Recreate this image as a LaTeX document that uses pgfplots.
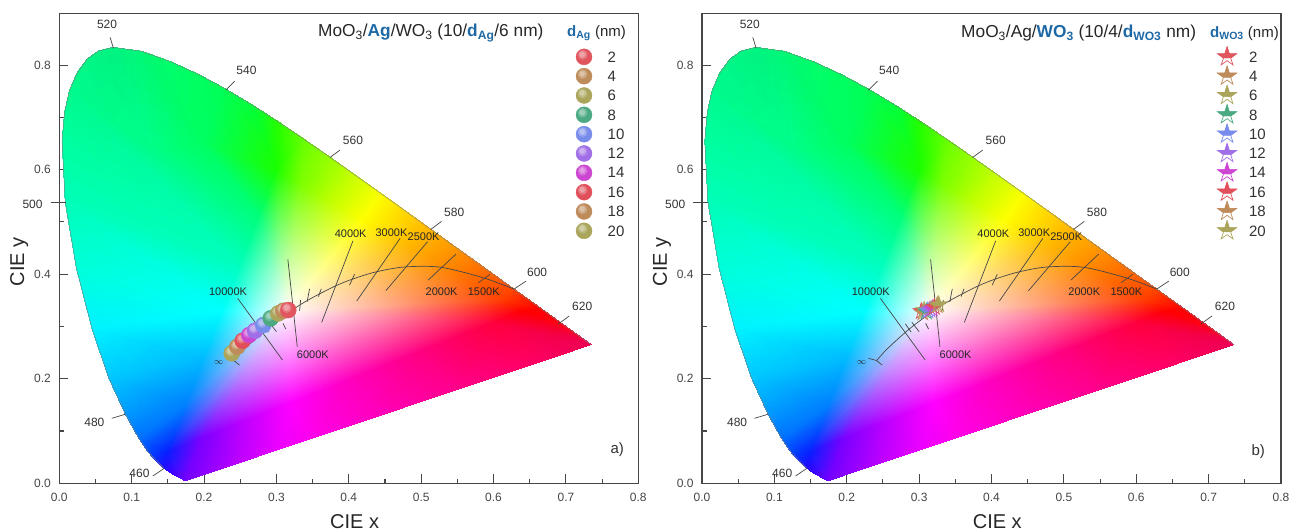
\documentclass[border=0pt]{standalone}
\usepackage{fontspec}
\setmainfont{Liberation Sans}
\usepackage{pgfplots}
\usepackage{pgfplotstable}
\pgfplotsset{compat=1.18}
\usepgfplotslibrary{patchplots}
\usetikzlibrary{plotmarks}
\definecolor{axc}{RGB}{70,70,70}
\definecolor{txc}{RGB}{50,50,50}
\definecolor{linc}{RGB}{70,70,70}
\definecolor{tblue}{RGB}{30,105,165}
\definecolor{c1}{RGB}{225,85,95}
\definecolor{c2}{RGB}{190,140,90}
\definecolor{c3}{RGB}{170,165,90}
\definecolor{c4}{RGB}{75,170,130}
\definecolor{c5}{RGB}{120,140,235}
\definecolor{c6}{RGB}{160,110,230}
\definecolor{c7}{RGB}{205,70,210}
\definecolor{c8}{RGB}{225,80,90}
\definecolor{c9}{RGB}{190,140,90}
\definecolor{c10}{RGB}{170,165,90}

\newcommand\defball[1]{%
  \pgfdeclareplotmark{ball#1}{%
    \begin{scope}[x=\pgfplotmarksize,y=\pgfplotmarksize]
      \fill[c#1] (0,0) circle[radius=1];
      \fill[white,opacity=.16] (-.18,.25) circle[radius=.58];
      \fill[white,opacity=.18] (-.2,.28) circle[radius=.42];
      \fill[white,opacity=.22] (-.22,.3) circle[radius=.27];
    \end{scope}}%
  \pgfdeclareplotmark{star#1}{%
    \begin{scope}[x=\pgfplotmarksize,y=\pgfplotmarksize]
      \fill[c#1] (0,1)--(-.225,.309)--(-.951,.309)--(-.363,-.118)--(.363,-.118)--(.951,.309)--(.225,.309)--cycle;
      \draw[c#1,line width=.7pt,line join=miter] (0,1)--(-.225,.309)--(-.951,.309)--(-.363,-.118)--(-.588,-.809)--(0,-.382)--(.588,-.809)--(.363,-.118)--(.951,.309)--(.225,.309)--cycle;
    \end{scope}}}
\defball{1}\defball{2}\defball{3}\defball{4}\defball{5}\defball{6}\defball{7}\defball{8}\defball{9}\defball{10}

\pgfplotstableread{
x y c
.3127 .3290 rgb=1,1,1
.4633 .3295 rgb=1,.56,.56
.4501 .3400 rgb=1,.67,.56
.4209 .3630 rgb=1,.77,.56
.3881 .3892 rgb=1,.88,.56
.3617 .4101 rgb=1,1,.56
.3402 .4273 rgb=.88,1,.56
.3221 .4415 rgb=.77,1,.56
.3069 .4537 rgb=.6,1,.56
.2953 .4119 rgb=.56,1,.77
.2837 .3704 rgb=.56,1,.88
.2722 .3289 rgb=.56,1,1
.2607 .2876 rgb=.56,.88,1
.2493 .2463 rgb=.56,.77,1
.2379 .2053 rgb=.58,.6,1
.2597 .2173 rgb=.77,.56,1
.2855 .2315 rgb=.88,.56,1
.3165 .2486 rgb=1,.56,1
.3544 .2695 rgb=1,.56,.88
.4020 .2956 rgb=1,.56,.77
.4439 .3188 rgb=1,.56,.67
.6400 .3300 rgb=1,0,0
.6113 .3529 rgb=1,.247,0
.5480 .4029 rgb=1,.484,0
.4767 .4598 rgb=1,.735,0
.4193 .5053 rgb=1,1,0
.3724 .5426 rgb=.735,1,0
.3332 .5736 rgb=.484,1,0
.3000 .6000 rgb=.1,1,0
.2748 .5093 rgb=0,1,.484
.2497 .4189 rgb=0,1,.735
.2247 .3287 rgb=0,1,1
.1997 .2389 rgb=0,.735,1
.1748 .1493 rgb=0,.5,1
.1500 .0600 rgb=.03,.12,1
.1974 .0861 rgb=.484,0,1
.2535 .1170 rgb=.735,0,1
.3209 .1542 rgb=1,0,1
.4034 .1996 rgb=1,0,.735
.5068 .2565 rgb=1,0,.484
.5980 .3069 rgb=1,0,.247
.7347 .2653 rgb=.93,0,.33
.7079 .2920 rgb=1,0,.15
.6915 .3083 rgb=1,0,.08
.6658 .3340 rgb=1,0,0
.6482 .3514 rgb=1,.12,0
.6270 .3725 rgb=1,.28,0
.6029 .3965 rgb=1,.38,0
.5752 .4242 rgb=1,.48,0
.5448 .4544 rgb=1,.6,0
.5125 .4866 rgb=1,.705,0
.4788 .5202 rgb=1,.84,0
.4441 .5547 rgb=.98,1,0
.4087 .5896 rgb=.79,1,0
.3731 .6245 rgb=.59,1,0
.3373 .6589 rgb=.4,1,0
.3016 .6923 rgb=.15,1,0
.2658 .7243 rgb=0,1,.24
.2296 .7543 rgb=0,1,.33
.1929 .7816 rgb=0,1,.38
.1547 .8059 rgb=0,1,.42
.1142 .8262 rgb=0,.97,.46
.0743 .8338 rgb=0,.95,.5
.0389 .8120 rgb=0,.96,.52
.0139 .7502 rgb=0,.98,.55
.0039 .6548 rgb=0,1,.62
.0082 .5384 rgb=0,1,.72
.0235 .4127 rgb=0,1,.85
.0454 .2950 rgb=0,.95,1
.0687 .2007 rgb=0,.78,1
.0913 .1327 rgb=0,.6,1
.1096 .0868 rgb=0,.45,1
.1241 .0578 rgb=0,.27,1
.1440 .0297 rgb=.12,.05,1
.1566 .0177 rgb=.25,0,1
.1741 .0050 rgb=.447,0,1
.2500 .0402 rgb=.75,0,1
.3000 .0634 rgb=.916,0,1
.3500 .0866 rgb=1,0,.92
.4500 .1331 rgb=1,0,.72
.5500 .1796 rgb=1,0,.55
.6500 .2259 rgb=1,0,.4
.2000 .6500 rgb=0,1,.38
.1300 .6200 rgb=0,1,.55
.0074 .7100 rgb=0,.99,.58
.0246 .7850 rgb=0,.97,.53
.0545 .8270 rgb=0,.95,.51
}\verts

\tikzset{
  wl/.style={font=\fontsize{12}{12}\selectfont,text=txc,inner sep=0pt},
  tk/.style={font=\fontsize{11}{11}\selectfont,text=black!85,inner sep=0pt},
}
\pgfplotsset{
  ciepanel/.style={
    scale only axis,width=579pt,height=470pt,anchor=south west,
    xmin=0,xmax=.8,ymin=0,ymax=.899,clip=false,
    axis line style={draw=axc,line width=1.2pt},
    every tick/.style={draw=axc,line width=1.1pt},
    tick align=inside,xtick pos=bottom,ytick pos=left,
    major tick length=9pt,minor tick length=4.7pt,
    xtick={0,.1,.2,.3,.4,.5,.6,.7,.8},ytick={0,.2,.4,.6,.8},
    minor xtick={.05,.15,.25,.35,.45,.55,.65,.75},minor ytick={.1,.3,.5,.7},
    xticklabel style={/pgf/number format/fixed,/pgf/number format/fixed zerofill,/pgf/number format/precision=1,/pgf/number format/assume math mode=true,font=\fontsize{12}{12}\selectfont,text=axc,yshift=-6.5pt},
    yticklabel style={/pgf/number format/fixed,/pgf/number format/fixed zerofill,/pgf/number format/precision=1,/pgf/number format/assume math mode=true,font=\fontsize{12}{12}\selectfont,text=axc,xshift=-5pt},
    legend cell align=left,
    legend style={at={(axis cs:.7137,.8342)},anchor=north west,draw=none,fill=none,inner sep=0pt,outer sep=0pt,
      row sep=0pt,column sep=15.5pt,
      font=\fontsize{15}{15}\selectfont,text=txc,
      nodes={inner sep=0pt,minimum height=19.33pt,text depth=0pt,anchor=west}},
  },
  thin line/.style={linc,line width=.7pt,no marks,forget plot},
}

\newcommand\gamut{%
  \addplot[patch,shader=interp,forget plot,mesh/color input=explicit,table/row sep=\\,patch table={
0 1 2\\0 2 3\\0 3 4\\0 4 5\\0 5 6\\0 6 7\\0 7 8\\0 8 9\\0 9 10\\0 10 11\\0 11 12\\0 12 13\\0 13 14\\0 14 15\\0 15 16\\0 16 17\\0 17 18\\0 18 19\\0 19 20\\0 20 1\\
1 21 22\\1 22 2\\2 22 23\\2 23 3\\3 23 24\\3 24 4\\4 24 25\\4 25 5\\5 25 26\\5 26 6\\6 26 27\\6 27 7\\7 27 28\\7 28 8\\8 28 29\\8 29 9\\9 29 30\\9 30 10\\10 30 31\\10 31 11\\11 31 32\\11 32 12\\12 32 33\\12 33 13\\13 33 34\\13 34 14\\14 34 35\\14 35 15\\15 35 36\\15 36 16\\16 36 37\\16 37 17\\17 37 38\\17 38 18\\18 38 39\\18 39 19\\19 39 40\\19 40 20\\20 40 21\\20 21 1\\
21 41 42\\21 42 43\\21 43 44\\21 22 44\\22 44 45\\22 45 46\\22 23 46\\23 46 47\\23 47 48\\23 24 48\\24 48 49\\24 49 50\\24 25 50\\25 50 51\\25 51 52\\25 26 52\\26 52 53\\26 27 53\\27 53 54\\27 54 55\\27 28 55\\28 55 56\\28 56 57\\28 57 58\\28 58 82\\82 58 59\\82 59 60\\82 60 61\\82 61 83\\83 61 62\\83 62 63\\83 63 64\\28 82 29\\29 82 83\\29 83 64\\65 84 64\\64 85 63\\63 86 62\\29 30 64\\30 64 65\\30 65 66\\30 31 66\\31 66 67\\31 67 68\\31 32 68\\32 68 69\\32 33 69\\33 69 70\\33 70 71\\33 34 71\\34 71 72\\34 72 73\\34 73 74\\34 74 75\\34 35 75\\35 75 76\\35 36 76\\36 76 77\\36 37 77\\37 77 78\\37 38 78\\38 78 79\\38 39 79\\39 79 80\\39 40 80\\40 80 81\\40 81 41\\40 21 41\\
}] table[x=x,y=y,meta=c] \verts;
  \addplot[draw=black!50,line width=.45pt,no marks,forget plot] coordinates {
   (.7347,.2653)(.7079,.2920)(.6915,.3083)(.6658,.3340)(.6482,.3514)(.6270,.3725)(.6029,.3965)(.5752,.4242)(.5448,.4544)(.5125,.4866)(.4788,.5202)(.4441,.5547)(.4087,.5896)(.3731,.6245)(.3373,.6589)(.3016,.6923)(.2658,.7243)(.2296,.7543)(.1929,.7816)(.1547,.8059)(.1142,.8262)(.0743,.8338)(.0545,.8270)(.0389,.8120)(.0246,.7850)(.0139,.7502)(.0074,.7100)(.0039,.6548)(.0082,.5384)(.0235,.4127)(.0454,.2950)(.0687,.2007)(.0913,.1327)(.1096,.0868)(.1241,.0578)(.1440,.0297)};
}
\newcommand\locus{%
  \addplot[thin line,smooth] coordinates {(.2406,.2340)(.2525,.2523)(.2637,.2673)(.2807,.2884)(.2952,.3048)(.3221,.3318)(.3451,.3516)(.3805,.3768)(.4053,.3907)(.4369,.4041)(.4762,.4137)(.5267,.4133)(.5857,.3931)(.6282,.3715)};
  % isotherms and small ticks
  \addplot[thin line] coordinates {(.4058,.4639)(.3625,.3078)};
  \addplot[thin line] coordinates {(.4709,.4685)(.4109,.3486)};
  \addplot[thin line] coordinates {(.5088,.4620)(.4511,.3683)};
  \addplot[thin line] coordinates {(.5481,.4384)(.5097,.3887)};
  \addplot[thin line] coordinates {(.5951,.3996)(.5790,.3836)};
  \addplot[thin line] coordinates {(.3158,.4283)(.3288,.2612)};
  \addplot[thin line] coordinates {(.2465,.3537)(.3084,.2357)};
  \addplot[thin line] coordinates {(.3458,.3720)(.3424,.3470)};
  \addplot[thin line] coordinates {(.3620,.3720)(.3580,.3570)};
  \addplot[thin line] coordinates {(.4080,.4000)(.4010,.3790)};
  \addplot[thin line] coordinates {(.2810,.3050)(.2890,.2890)};
  \addplot[thin line] coordinates {(.2900,.3080)(.3000,.2900)};
  \addplot[thin line] coordinates {(.3090,.3060)(.3130,.2950)};
  \addplot[thin line] coordinates {(.3334,.3505)(.3320,.3300)};
  \addplot[thin line] coordinates {(.2410,.2350)(.2490,.2260)};
  \addplot[thin line] coordinates {(.2300,.2390)(.2410,.2350)};
  % wavelength ticks
  \addplot[thin line] coordinates {(.0702,.8530)(.0748,.8320)};
  \addplot[thin line] coordinates {(.2424,.7693)(.2300,.7520)};
  \addplot[thin line] coordinates {(.3878,.6373)(.3740,.6233)};
  \addplot[thin line] coordinates {(.5282,.5010)(.5134,.4857)};
  \addplot[thin line] coordinates {(.6450,.3868)(.6284,.3715)};
  \addplot[thin line] coordinates {(.7045,.3199)(.6893,.3046)};
  \addplot[thin line] coordinates {(-.0120,.5373)(.0088,.5373)};
  \addplot[thin line] coordinates {(.0725,.1243)(.0910,.1320)};
  \addplot[thin line] coordinates {(.1293,.0140)(.1450,.0287)};
  \node[wl] at (axis cs:.0660,.8780) {520};
  \node[wl] at (axis cs:.2586,.7890) {540};
  \node[wl] at (axis cs:.4058,.6564) {560};
  \node[wl] at (axis cs:.5457,.5188) {580};
  \node[wl] at (axis cs:.6602,.4040) {600};
  \node[wl] at (axis cs:.7225,.3380) {620};
  \node[wl] at (axis cs:-.0370,.5335) {500};
  \node[wl] at (axis cs:.0485,.1160) {480};
  \node[wl] at (axis cs:.1108,.0190) {460};
  \node[tk] at (axis cs:.4026,.4780) {4000K};
  \node[tk] at (axis cs:.4590,.4790) {3000K};
  \node[tk] at (axis cs:.5033,.4715) {2500K};
  \node[tk] at (axis cs:.5282,.3664) {2000K};
  \node[tk] at (axis cs:.5864,.3664) {1500K};
  \node[tk] at (axis cs:.2332,.3664) {10000K};
  \node[tk] at (axis cs:.3504,.2453) {6000K};
  \node[tk,font=\fontsize{9}{9}\selectfont] at (axis cs:.2202,.2306) {$\infty$};
  \node[font=\fontsize{20}{20}\selectfont,text=black!85] at (axis cs:.408,-.0740) {CIE x};
  \node[font=\fontsize{20}{20}\selectfont,text=black!85,rotate=90] at (axis cs:-.0553,.4240) {CIE y};
}

\begin{document}
\begin{tikzpicture}[x=1pt,y=1pt]
\path[use as bounding box] (0,0) rectangle (1300,532);

\begin{axis}[ciepanel,at={(59.3pt,48.7pt)},reverse legend]
\gamut
\addplot[only marks,mark=ball10,mark size=8pt] coordinates {(.2382,.2486)};
\addplot[only marks,mark=ball9,mark size=8pt] coordinates {(.2460,.2612)};
\addplot[only marks,mark=ball8,mark size=8pt] coordinates {(.2534,.2727)};
\addplot[only marks,mark=ball7,mark size=8pt] coordinates {(.2625,.2836)};
\addplot[only marks,mark=ball6,mark size=8pt] coordinates {(.2704,.2918)};
\addplot[only marks,mark=ball5,mark size=8pt] coordinates {(.2819,.3027)};
\addplot[only marks,mark=ball4,mark size=8pt] coordinates {(.2921,.3155)};
\addplot[only marks,mark=ball3,mark size=8pt] coordinates {(.3026,.3250)};
\addplot[only marks,mark=ball2,mark size=8pt] coordinates {(.3095,.3300)};
\addplot[only marks,mark=ball1,mark size=8pt] coordinates {(.3164,.3314)};
\legend{20,18,16,14,12,10,8,6,4,2}
\locus
\node[anchor=west,inner sep=0pt,font=\fontsize{17.3}{17.3}\selectfont,text=black!85] at (axis cs:.3574,.861) {MoO\textsubscript{3}/\textcolor{tblue}{\textbf{Ag}}/WO\textsubscript{3} (10/\textcolor{tblue}{\textbf{d\textsubscript{Ag}}}/6 nm)};
\node[anchor=west,inner sep=0pt,font=\fontsize{15}{15}\selectfont,text=black!85] at (axis cs:.7015,.861) {\textcolor{tblue}{\textbf{d\textsubscript{Ag}}} (nm)};
\node[font=\fontsize{15}{15}\selectfont,text=txc] at (axis cs:.771,.0645) {a)};
\end{axis}

\begin{axis}[ciepanel,at={(702pt,48.7pt)},legend image post style={mark size=10pt,overlay},legend style={column sep=30.5pt}]
\gamut
\addplot[only marks,mark=star1,mark size=8.5pt] coordinates {(.3030,.3290)};
\addplot[only marks,mark=star2,mark size=8.5pt] coordinates {(.3050,.3260)};
\addplot[only marks,mark=star3,mark size=8.5pt] coordinates {(.3070,.3310)};
\addplot[only marks,mark=star4,mark size=8.5pt] coordinates {(.3100,.3280)};
\addplot[only marks,mark=star5,mark size=8.5pt] coordinates {(.3120,.3300)};
\addplot[only marks,mark=star6,mark size=8.5pt] coordinates {(.3150,.3320)};
\addplot[only marks,mark=star7,mark size=8.5pt] coordinates {(.3180,.3340)};
\addplot[only marks,mark=star8,mark size=8.5pt] coordinates {(.3210,.3370)};
\addplot[only marks,mark=star9,mark size=8.5pt] coordinates {(.3250,.3400)};
\addplot[only marks,mark=star10,mark size=8.5pt] coordinates {(.3270,.3420)};
\legend{2,4,6,8,10,12,14,16,18,20}
\locus
\node[anchor=west,inner sep=0pt,font=\fontsize{17.3}{17.3}\selectfont,text=black!85] at (axis cs:.3579,.861) {MoO\textsubscript{3}/Ag/\textcolor{tblue}{\textbf{WO\textsubscript{3}}} (10/4/\textcolor{tblue}{\textbf{d\textsubscript{WO3}}} nm)};
\node[anchor=west,inner sep=0pt,font=\fontsize{15}{15}\selectfont,text=black!85] at (axis cs:.7019,.861) {\textcolor{tblue}{\textbf{d\textsubscript{WO3}}} (nm)};
\node[font=\fontsize{15}{15}\selectfont,text=txc] at (axis cs:.7685,.0615) {b)};
\end{axis}
\end{tikzpicture}
\end{document}
